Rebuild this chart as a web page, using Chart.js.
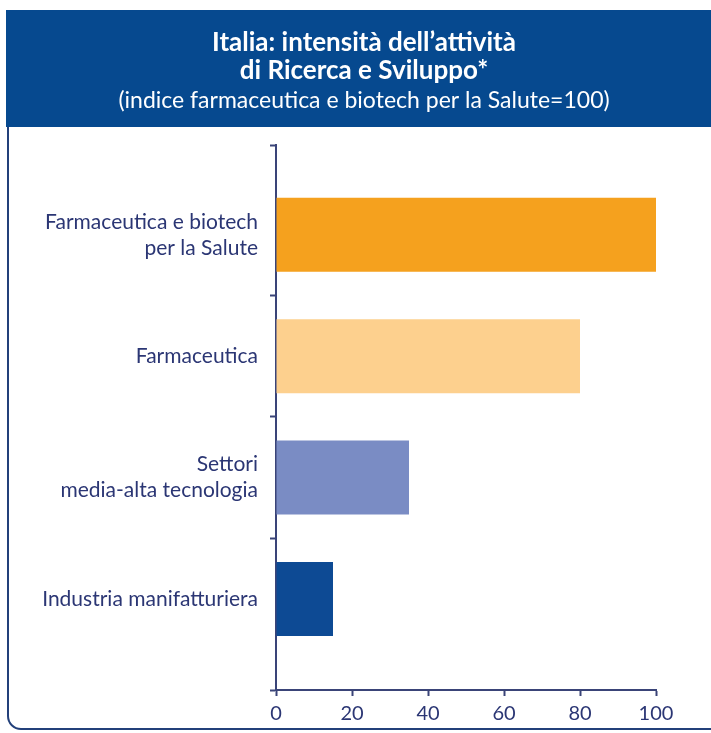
<!DOCTYPE html>
<html>
<head>
<meta charset="utf-8">
<title>Italia: intensità dell'attività di Ricerca e Sviluppo</title>
<script src="https://cdn.jsdelivr.net/npm/chart.js@4.4.1/dist/chart.umd.min.js"></script>
<style>
  html, body { margin: 0; padding: 0; background: #fff; }
  #wrap { position: relative; width: 711px; height: 733px; }
</style>
</head>
<body>
<div id="wrap"><canvas id="rdChart" width="711" height="733"></canvas></div>
<script>
// sectors and R&D intensity index (pharma + biotech for health = 100)
var sectorLabels = [
    ['Farmaceutica e biotech', 'per la Salute'],
    'Farmaceutica',
    ['Settori', 'media-alta tecnologia'],
    'Industria manifatturiera'
];
var intensityIndex = [100, 80, 35, 15];
var barColors = ['#f5a11e', '#fdd08e', '#7a8cc4', '#0d4a94'];
var xTickValues = [0, 20, 40, 60, 80, 100];

var navy = '#2b3674';
var axisColor = '#3a4478';
var fontFamily = 'Lato, "Open Sans", sans-serif';

// the vertical axis runs a little past the first and last bar
var yMin = -0.74;
var yMax = 3.75;
// tick marks sit between sectors, plus one at each end of the axis
var yTickMarks = [yMin, 0.5, 1.5, 2.5, yMax];

var barData = intensityIndex.map(function(v, i) {
    return { x: v, y: i };
});

// blue header band and rounded frame
var framePlugin = {
    id: 'frame',
    // centre title and subtitle on the header band, not on the padded layout
    afterLayout: function(chart) {
        chart.boxes.forEach(function(box) {
            if (box.position === 'top' && box.options && box.options.text !== undefined) {
                box.left = 6;
                box.right = 722;
            }
        });
    },
    beforeDraw: function(chart) {
        var ctx = chart.ctx;
        ctx.save();
        ctx.fillStyle = '#fff';
        ctx.fillRect(0, 0, chart.width, chart.height);
        ctx.fillStyle = '#06498f';
        ctx.fillRect(6, 10, chart.width, 117);
        ctx.strokeStyle = '#23407a';
        ctx.lineWidth = 2;
        ctx.beginPath();
        ctx.moveTo(8, 127);
        ctx.lineTo(8, 716);
        ctx.arcTo(8, 729, 21, 729, 13);
        ctx.lineTo(chart.width + 10, 729);
        ctx.stroke();
        ctx.restore();
    }
};

var ctx = document.getElementById('rdChart');
var rdChart = new Chart(ctx, {
    type: 'bar',
    data: {
        datasets: [{
            data: barData,
            backgroundColor: barColors,
            borderWidth: 0,
            barPercentage: 1,
            categoryPercentage: 0.61,
            xAxisID: 'x',
            yAxisID: 'y'
        }]
    },
    options: {
        responsive: false,
        animation: false,
        indexAxis: 'y',
        layout: {
            padding: { top: 10, left: 8, right: 55, bottom: 1 }
        },
        plugins: {
            legend: { display: false },
            tooltip: { enabled: false },
            title: {
                display: true,
                text: ['Italia: intensità dell’attività', 'di Ricerca e Sviluppo*'],
                color: '#ffffff',
                font: { family: fontFamily, size: 26, weight: 'bold', lineHeight: 28 / 26 },
                padding: { top: 19, bottom: 0 }
            },
            subtitle: {
                display: true,
                text: '(indice farmaceutica e biotech per la Salute=100)',
                color: '#ffffff',
                font: { family: fontFamily, size: 23, weight: 'normal', lineHeight: 25.2 / 23 },
                padding: { top: 3.4, bottom: 31.4 }
            }
        },
        scales: {
            x: {
                type: 'linear',
                position: 'bottom',
                min: 0,
                max: 100,
                afterBuildTicks: function(scale) {
                    scale.ticks = xTickValues.map(function(v) { return { value: v }; });
                },
                border: { display: true, color: axisColor, width: 2 },
                grid: {
                    drawOnChartArea: false,
                    drawTicks: true,
                    tickLength: 6,
                    tickColor: axisColor,
                    tickWidth: 2
                },
                ticks: {
                    color: navy,
                    padding: 6,
                    font: { family: fontFamily, size: 20, lineHeight: 1.2 }
                }
            },
            // axis line and tick marks
            y: {
                type: 'linear',
                position: 'left',
                reverse: true,
                min: yMin,
                max: yMax,
                offset: false,
                weight: 0,
                afterBuildTicks: function(scale) {
                    scale.ticks = yTickMarks.map(function(v) { return { value: v }; });
                },
                afterFit: function(scale) {
                    scale.width = 6;
                },
                border: { display: true, color: axisColor, width: 2 },
                grid: {
                    offset: false,
                    drawOnChartArea: false,
                    drawTicks: true,
                    tickLength: 6,
                    tickColor: axisColor,
                    tickWidth: 2
                },
                ticks: { display: false }
            },
            // sector names, centred on each bar
            yl: {
                type: 'linear',
                position: 'left',
                reverse: true,
                min: yMin,
                max: yMax,
                offset: false,
                weight: 1,
                afterBuildTicks: function(scale) {
                    scale.ticks = sectorLabels.map(function(l, i) { return { value: i }; });
                },
                afterFit: function(scale) {
                    scale.width = 262;
                },
                border: { display: false },
                grid: { display: false, offset: false, drawTicks: false, tickLength: 0 },
                ticks: {
                    autoSkip: false,
                    color: navy,
                    padding: 12,
                    font: { family: fontFamily, size: 21, lineHeight: 26 / 21 },
                    callback: function(value) {
                        return sectorLabels[value];
                    }
                }
            }
        }
    },
    plugins: [framePlugin]
});
</script>
</body>
</html>
